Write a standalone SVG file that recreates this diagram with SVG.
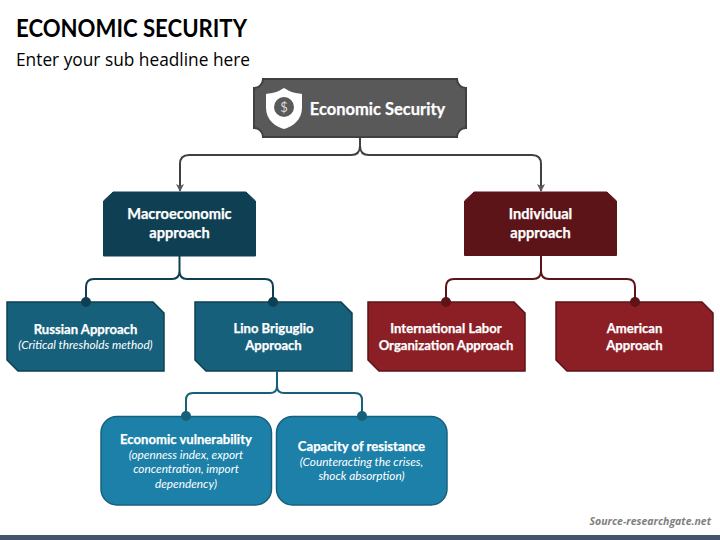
<svg xmlns="http://www.w3.org/2000/svg" width="720" height="540" viewBox="0 0 720 540">
<style>
text{font-family:Lato,"Open Sans",sans-serif;fill:#fff;text-anchor:middle}
.b{font-weight:700;font-size:13.100px;stroke:#fff;stroke-width:.25px}
.h{font-weight:700;font-size:14.600px;stroke:#fff;stroke-width:.25px}
.i{font-style:italic;font-size:11.800px}
.c{fill:none;stroke-width:2}
</style>
<defs>
<marker id="arr" markerWidth="10" markerHeight="10" refX="7" refY="4" orient="auto" markerUnits="userSpaceOnUse"><path d="M0 0L8 4L0 8L2 4Z" fill="#595959"/></marker>
</defs>
<rect width="720" height="540" fill="#fff"/>
<rect y="535" width="720" height="5" fill="#44546a"/>
<text id="title" x="16" y="37" style="font-weight:700;font-size:25px;fill:#000;text-anchor:start" textLength="231" lengthAdjust="spacingAndGlyphs">ECONOMIC SECURITY</text>
<text id="subtitle" x="16" y="65.500" style="font-family:'Open Sans',sans-serif;font-size:17.500px;fill:#000;text-anchor:start" textLength="234" lengthAdjust="spacingAndGlyphs">Enter your sub headline here</text>
<g id="node-root">
<path d="M263 79H457A9 9 0 0 0 466 88V128A9 9 0 0 0 457 137H263A9 9 0 0 0 254 128V88A9 9 0 0 0 263 79Z" fill="#595959" stroke="#404040" stroke-width="2"/>
<path d="M284 88C278 92 273 93 266 94V108C266 120 276 127 284 129C292 127 302 120 302 108V94C295 93 290 92 284 88Z" fill="#fff"/>
<circle cx="284" cy="107" r="10" fill="#595959"/>
<text x="284" y="112" style="font-size:13px;fill:#d9d9d9">$</text>
<text class="h" x="377.500" y="115" style="font-size:16.500px">Economic Security</text>
</g>
<g id="node-macro">
<path d="M113 192H246L255.500 201V256H103.500V201Z" fill="#0f3f52" stroke="#0f3f52" stroke-width="1"/>
<text class="h" x="179.500" y="219">Macroeconomic</text>
<text class="h" x="179.500" y="238">approach</text>
</g>
<g id="node-individual">
<path d="M474 192H607L616.500 201V255.500H464.500V201Z" fill="#5c1418" stroke="#5c1418" stroke-width="1"/>
<text class="h" x="540.500" y="219">Individual</text>
<text class="h" x="540.500" y="238">approach</text>
</g>
<g id="node-russian">
<path d="M7 302H153L164 313V371H18L7 360Z" fill="#17607c" stroke="#0f3f52" stroke-width="1.500"/>
<text class="b" x="85.500" y="334">Russian Approach</text>
<text class="i" x="85.500" y="349">(Critical thresholds method)</text>
</g>
<g id="node-lino">
<path d="M195 302H341L352 313V371H206L195 360Z" fill="#17607c" stroke="#0f3f52" stroke-width="1.500"/>
<text class="b" x="273.500" y="333">Lino Briguglio</text>
<text class="b" x="273.500" y="350">Approach</text>
</g>
<g id="node-ilo">
<path d="M368 302H514L525 313V371H379L368 360Z" fill="#8c1f26" stroke="#5c1418" stroke-width="1.500"/>
<text class="b" x="446" y="333">International Labor</text>
<text class="b" x="446" y="350">Organization Approach</text>
</g>
<g id="node-american">
<path d="M556 302H702L713 313V371H567L556 360Z" fill="#8c1f26" stroke="#5c1418" stroke-width="1.500"/>
<text class="b" x="634.500" y="333">American</text>
<text class="b" x="634.500" y="350">Approach</text>
</g>
<g id="node-vulnerability">
<rect x="101" y="416.500" width="170.500" height="88.500" rx="16" fill="#1c80a8" stroke="#17607c" stroke-width="1.500"/>
<text class="b" x="186" y="444">Economic vulnerability</text>
<text class="i" x="186" y="459">(openness index, export</text>
<text class="i" x="186" y="473">concentration, import</text>
<text class="i" x="186" y="488">dependency)</text>
</g>
<g id="node-capacity">
<rect x="276.500" y="416.500" width="170.500" height="88.500" rx="16" fill="#1c80a8" stroke="#17607c" stroke-width="1.500"/>
<text class="b" x="361.500" y="451">Capacity of resistance</text>
<text class="i" x="361.500" y="466">(Counteracting the crises,</text>
<text class="i" x="361.500" y="480">shock absorption)</text>
</g>
<g id="connectors">
<path class="c" stroke="#404040" d="M360 138V146Q360 155 351 155H189Q180 155 180 164V191" marker-end="url(#arr)"/>
<path class="c" stroke="#404040" d="M360 138V146Q360 155 369 155H532Q541 155 541 164V191" marker-end="url(#arr)"/>
<path class="c" stroke="#0f3f52" d="M179.500 256V271Q179.500 279 172 279H94Q86 279 86 287V302M179.500 256V271Q179.500 279 187 279H265Q273 279 273 287V302"/>
<circle cx="86" cy="302" r="5" fill="#0f3f52"/><circle cx="273" cy="302" r="5" fill="#0f3f52"/>
<path class="c" stroke="#5c1418" d="M541 256V271Q541 279 533 279H454Q446 279 446 287V302M541 256V271Q541 279 549 279H627Q635 279 635 287V302"/>
<circle cx="446" cy="302" r="5" fill="#5c1418"/><circle cx="635" cy="302" r="5" fill="#5c1418"/>
<path class="c" stroke="#17607c" d="M277 371V386Q277 393 270 393H193Q186 393 186 400V416M277 371V386Q277 393 284 393H355Q362 393 362 400V416"/>
<circle cx="186" cy="416" r="5" fill="#17607c"/><circle cx="362" cy="416" r="5" fill="#17607c"/>
</g>
<text id="source" x="711" y="525" style="font-family:'Open Sans',sans-serif;font-weight:700;font-style:italic;font-size:10.500px;fill:#7f7f7f;text-anchor:end">Source-researchgate.net</text>
</svg>
